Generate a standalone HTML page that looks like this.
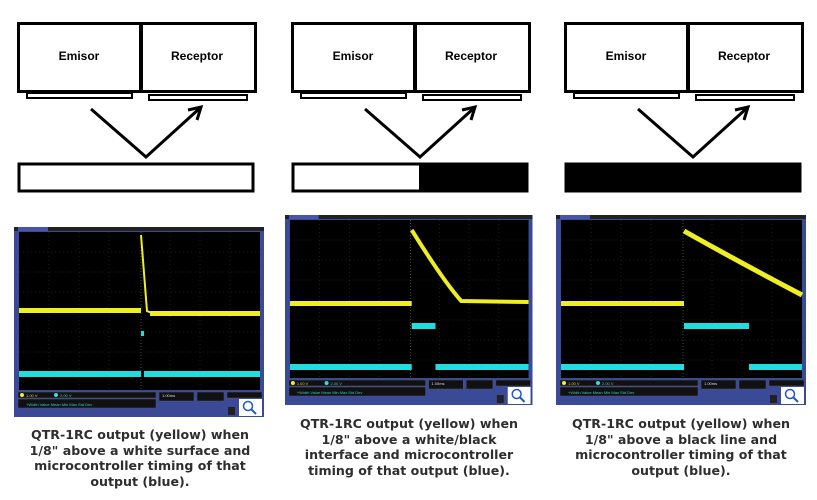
<!DOCTYPE html>
<html><head><meta charset="utf-8"><style>
body{margin:0;background:#fff;width:817px;height:500px;overflow:hidden;position:relative;font-family:"DejaVu Sans","Liberation Sans",sans-serif}
.cap{position:absolute;width:270px;text-align:center;font-weight:bold;font-size:12.6px;line-height:15.6px;color:#2e2e2e}
</style></head><body>
<svg width="817" height="500" style="position:absolute;left:0;top:0">
<defs>
<g id="diag">
  <rect x="18.5" y="23.5" width="122" height="68" fill="#fff" stroke="#000" stroke-width="3"/>
  <rect x="141.5" y="23.5" width="114" height="68" fill="#fff" stroke="#000" stroke-width="3"/>
  <rect x="27" y="93" width="105" height="5" fill="#fff" stroke="#000" stroke-width="2"/>
  <rect x="149" y="95" width="98" height="5" fill="#fff" stroke="#000" stroke-width="2"/>
  <text x="79" y="60" font-family="Liberation Sans, sans-serif" font-weight="bold" font-size="12" text-anchor="middle">Emisor</text>
  <text x="197" y="60" font-family="Liberation Sans, sans-serif" font-weight="bold" font-size="12" text-anchor="middle">Receptor</text>
  <polyline points="91,109 146,157 200,108" fill="none" stroke="#000" stroke-width="3"/>
  <polyline points="188,110 201,107 197,120" fill="none" stroke="#000" stroke-width="3"/>
</g>
<g id="scopebase">
  <rect x="0" y="0" width="250" height="190" fill="#3b4a96"/>
  <rect x="0" y="0" width="250" height="4" fill="#222"/>
  <rect x="4" y="0" width="30" height="4" fill="#4455aa"/>
  <rect x="5" y="5" width="241" height="158" fill="#000"/>
  <g stroke="#333" stroke-width="0.6" stroke-dasharray="1,3">
    <line x1="35" y1="5" x2="35" y2="163"/><line x1="65" y1="5" x2="65" y2="163"/><line x1="95" y1="5" x2="95" y2="163"/>
    <line x1="156" y1="5" x2="156" y2="163"/><line x1="186" y1="5" x2="186" y2="163"/><line x1="216" y1="5" x2="216" y2="163"/>
    <line x1="5" y1="25" x2="246" y2="25"/><line x1="5" y1="45" x2="246" y2="45"/><line x1="5" y1="65" x2="246" y2="65"/>
    <line x1="5" y1="105" x2="246" y2="105"/><line x1="5" y1="125" x2="246" y2="125"/><line x1="5" y1="145" x2="246" y2="145"/>
  </g>
  <line x1="127" y1="5" x2="127" y2="163" stroke="#777" stroke-width="0.6" stroke-dasharray="1,2"/>
  <rect x="4" y="165" width="138" height="6" fill="#111" stroke="#557" stroke-width="0.5"/>
  <rect x="4" y="172" width="138" height="9" fill="#111" stroke="#557" stroke-width="0.5"/>
  <rect x="145" y="165" width="35" height="9" fill="#111" stroke="#557" stroke-width="0.5"/>
  <rect x="183" y="165" width="27" height="9" fill="#111" stroke="#557" stroke-width="0.5"/>
  <rect x="213" y="165" width="35" height="6" fill="#111" stroke="#557" stroke-width="0.5"/>
  <circle cx="8" cy="168" r="2" fill="#ee3"/><circle cx="42" cy="168" r="2" fill="#3dd"/>
  <text x="12" y="170" font-size="4" fill="#cc3" font-family="Liberation Sans">1.00 V</text>
  <text x="46" y="170" font-size="4" fill="#3cc" font-family="Liberation Sans">2.00 V</text>
  <text x="12" y="179" font-size="4" fill="#3cc" font-family="Liberation Sans">+Width   Value   Mean   Min   Max   Std Dev</text>
  <text x="148" y="170" font-size="4" fill="#ddd" font-family="Liberation Sans">1.00ms</text>
  <rect x="225" y="172" width="23" height="17" fill="#fff"/>
  <circle cx="234" cy="179" r="4.5" fill="none" stroke="#2255cc" stroke-width="1.5"/>
  <line x1="237" y1="182" x2="242" y2="187" stroke="#2255cc" stroke-width="2"/>
  <rect x="214" y="180" width="7" height="8" fill="#222"/>
</g>
</defs>
<use href="#diag"/>
<rect x="19" y="164" width="234" height="27" fill="#fff" stroke="#000" stroke-width="3"/>
<use href="#diag" transform="translate(274,0)"/>
<rect x="293" y="164" width="234" height="27" fill="#fff" stroke="#000" stroke-width="3"/>
<rect x="419" y="164" width="108" height="27" fill="#000"/>
<use href="#diag" transform="translate(547,0)"/>
<rect x="566" y="164" width="234" height="27" fill="#000" stroke="#000" stroke-width="3"/>

<g transform="translate(14,227)">
  <use href="#scopebase"/>
  <rect x="5" y="81" width="122" height="5" fill="#ee2"/>
  <polyline points="127,8 133,84 138,86 246,86" fill="none" stroke="#ee2" stroke-width="2"/>
  <rect x="136" y="84" width="110" height="5" fill="#ee2"/>
  <rect x="5" y="144" width="122" height="6" fill="#2dd"/>
  <rect x="130" y="144" width="116" height="6" fill="#2dd"/>
  <rect x="127" y="104" width="3" height="5" fill="#2dd"/>
</g>
<g transform="translate(285,215) scale(0.99,1)">
  <use href="#scopebase"/>
  <rect x="5" y="86" width="123" height="5" fill="#ee2"/>
  <path d="M128,15 Q160,66 178,86 L246,87" fill="none" stroke="#ee2" stroke-width="4"/>
  <rect x="128" y="108" width="24" height="6" fill="#2dd"/>
  <rect x="5" y="149" width="123" height="6" fill="#2dd"/>
  <rect x="152" y="149" width="94" height="6" fill="#2dd"/>
</g>
<g transform="translate(556,215) scale(1,1)">
  <use href="#scopebase"/>
  <rect x="5" y="86" width="123" height="5" fill="#ee2"/>
  <path d="M128,16 Q185,48 246,80" fill="none" stroke="#ee2" stroke-width="5"/>
  <rect x="128" y="108" width="65" height="6" fill="#2dd"/>
  <rect x="5" y="149" width="123" height="6" fill="#2dd"/>
  <rect x="193" y="149" width="53" height="6" fill="#2dd"/>
</g>
</svg>
<div class="cap" style="left:5px;top:427px">QTR-1RC output (yellow) when<br>1/8" above a white surface and<br>microcontroller timing of that<br>output (blue).</div>
<div class="cap" style="left:274px;top:416px">QTR-1RC output (yellow) when<br>1/8" above a white/black<br>interface and microcontroller<br>timing of that output (blue).</div>
<div class="cap" style="left:546px;top:416px">QTR-1RC output (yellow) when<br>1/8" above a black line and<br>microcontroller timing of that<br>output (blue).</div>
</body></html>
